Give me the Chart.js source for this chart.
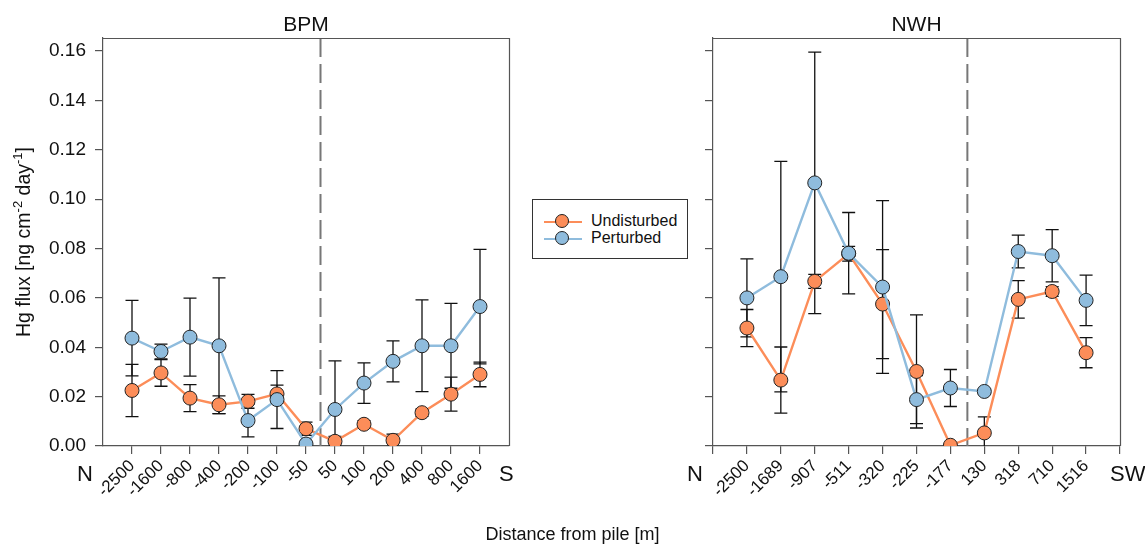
<!DOCTYPE html>
<html>
<head>
<meta charset="utf-8">
<script src="https://cdn.jsdelivr.net/npm/chart.js@4.4.1/dist/chart.umd.min.js"></script>
<style>
  body { margin: 0; background: #fff; font-family: "Liberation Sans", Arial, sans-serif; }
  #wrap { position: relative; width: 1145px; height: 549px; overflow: hidden; }
  #left { position: absolute; left: 0; top: 0; }
  #right { position: absolute; left: 560px; top: 0; }
  #legend { position: absolute; left: 532px; top: 199px; width: 154px; height: 58px;
            border: 1px solid #333; background: #fff; }
  .row { position: absolute; left: 0; height: 16px; width: 150px; }
  .row .ln { position: absolute; left: 11px; top: 7px; width: 38px; height: 2px; }
  .row .dot { position: absolute; left: 22px; top: 0; width: 14px; height: 14px; border-radius: 50%;
              border: 1px solid #222; box-sizing: border-box; }
  .row .tx { position: absolute; left: 58px; top: -2px; font-size: 16px; color: #111; }
  #xtitle { position: absolute; left: 0; width: 1145px; top: 524px; text-align: center; font-size: 18px; color: #111; }
</style>
</head>
<body>
<div id="wrap">
  <canvas id="left" width="560" height="549"></canvas>
  <canvas id="right" width="585" height="549"></canvas>
  <div id="legend">
    <div class="row" style="top:14px"><div class="ln" style="background:#FC8D59"></div><div class="dot" style="background:#FC8D59"></div><div class="tx">Undisturbed</div></div>
    <div class="row" style="top:31px"><div class="ln" style="background:#8FBCDD"></div><div class="dot" style="background:#8FBCDD"></div><div class="tx">Perturbed</div></div>
  </div>
  <div id="xtitle">Distance from pile [m]</div>
</div>
<script>
// BPM site
const bpmLabels = ['-2500', '-1600', '-800', '-400', '-200', '-100', '-50', '50', '100', '200', '400', '800', '1600'];
const bpmUndisturbed = [0.0225, 0.0296, 0.0194, 0.0167, 0.0181, 0.0211, 0.0070, 0.0019, 0.0088, 0.0023, 0.0135, 0.0210, 0.0290];
const bpmUndisturbedErr = [0.0106, 0.0054, 0.0055, 0.0036, 0.0028, 0.0036, 0.0027, 0.0020, 0.0015, 0.0025, 0.0015, 0.0069, 0.0050];
const bpmPerturbed = [0.0437, 0.0383, 0.0441, 0.0406, 0.0103, 0.0188, 0.0008, 0.0148, 0.0255, 0.0343, 0.0406, 0.0406, 0.0565];
const bpmPerturbedErr = [0.0153, 0.0030, 0.0158, 0.0275, 0.0066, 0.0117, 0.0010, 0.0197, 0.0082, 0.0083, 0.0186, 0.0172, 0.0232];

// NWH site
const nwhLabels = ['-2500', '-1689', '-907', '-511', '-320', '-225', '-177', '130', '318', '710', '1516'];
const nwhUndisturbed = [0.0478, 0.0267, 0.0667, 0.0779, 0.0575, 0.0302, 0.0003, 0.0053, 0.0594, 0.0626, 0.0378];
const nwhUndisturbedErr = [0.0075, 0.0134, 0.0028, 0.0030, 0.0221, 0.0229, 0.0005, 0.0065, 0.0076, 0.0020, 0.0061];
const nwhPerturbed = [0.0600, 0.0686, 0.1066, 0.0781, 0.0644, 0.0188, 0.0235, 0.0221, 0.0788, 0.0771, 0.0590];
const nwhPerturbedErr = [0.0158, 0.0467, 0.0530, 0.0165, 0.0350, 0.0097, 0.0075, 0.0010, 0.0066, 0.0106, 0.0102];

const yTicks = [0, 0.02, 0.04, 0.06, 0.08, 0.10, 0.12, 0.14, 0.16];
const pileBetween = 7.5; // pile sits between 7th and 8th sampling point

const orange = '#FC8D59';
const blue = '#8FBCDD';
const axisGrey = '#555';
const FONT = "'Liberation Sans', Arial, sans-serif";
Chart.defaults.font.family = FONT;
Chart.defaults.color = '#111';

const decor = {
  id: 'decor',
  beforeDatasetsDraw(chart, args, o) {
    const ctx = chart.ctx, a = chart.chartArea;
    const xs = chart.scales.x, ys = chart.scales.y;
    // dashed pile line
    ctx.save();
    ctx.strokeStyle = '#777';
    ctx.lineWidth = 2;
    ctx.setLineDash([19, 7]);
    const px = xs.getPixelForValue(pileBetween);
    ctx.beginPath(); ctx.moveTo(px, a.top); ctx.lineTo(px, a.bottom); ctx.stroke();
    ctx.restore();
    // error bars
    ctx.save();
    ctx.beginPath(); ctx.rect(a.left, a.top, a.right - a.left, a.bottom - a.top); ctx.clip();
    ctx.strokeStyle = '#111';
    ctx.lineWidth = 1.3;
    chart.data.datasets.forEach(ds => {
      ds.data.forEach((p, i) => {
        const e = ds.errors[i];
        const x = xs.getPixelForValue(p.x);
        const y1 = ys.getPixelForValue(p.y + e), y0 = ys.getPixelForValue(p.y - e);
        ctx.beginPath();
        ctx.moveTo(x, y1); ctx.lineTo(x, y0);
        ctx.moveTo(x - 6.5, y1); ctx.lineTo(x + 6.5, y1);
        ctx.moveTo(x - 6.5, y0); ctx.lineTo(x + 6.5, y0);
        ctx.stroke();
      });
    });
    ctx.restore();
  },
  afterDraw(chart, args, o) {
    const ctx = chart.ctx, a = chart.chartArea;
    ctx.save();
    // box top and right
    ctx.strokeStyle = axisGrey; ctx.lineWidth = 1.2;
    ctx.beginPath();
    ctx.moveTo(a.left, a.top + 0.5); ctx.lineTo(a.right + 0.5, a.top + 0.5); ctx.lineTo(a.right + 0.5, a.bottom);
    ctx.stroke();
    ctx.fillStyle = '#111';
    // panel title
    ctx.font = '21px ' + FONT;
    ctx.textAlign = 'center'; ctx.textBaseline = 'middle';
    ctx.fillText(o.title, (a.left + a.right) / 2, 25);
    // direction labels
    ctx.font = '22px ' + FONT;
    ctx.textAlign = 'right';
    ctx.fillText('N', a.left - 10, 475);
    ctx.textAlign = 'left';
    ctx.fillText(o.end, a.right - 10, 475);
    // y axis title with superscripts
    if (o.yTitle) {
      ctx.translate(25, (a.top + a.bottom) / 2);
      ctx.rotate(-Math.PI / 2);
      const big = '19.5px ' + FONT, small = '13px ' + FONT;
      const parts = [['Hg flux [ng cm', big, 0], ['-2', small, -7], [' day', big, 0], ['-1', small, -7], [']', big, 0]];
      let w = 0;
      parts.forEach(p => { ctx.font = p[1]; w += ctx.measureText(p[0]).width; });
      let x = -w / 2;
      ctx.textAlign = 'left'; ctx.textBaseline = 'middle';
      parts.forEach(p => { ctx.font = p[1]; ctx.fillText(p[0], x, p[2]); x += ctx.measureText(p[0]).width; });
    }
    ctx.restore();
  }
};

function makePanel(canvas, opts) {
  const pts = arr => arr.map((v, i) => ({ x: i + 1, y: v }));
  return new Chart(canvas, {
    type: 'line',
    data: {
      datasets: [
        { label: 'Perturbed', data: pts(opts.perturbed), errors: opts.perturbedErr, order: 0,
          borderColor: blue, backgroundColor: blue, borderWidth: 2.4,
          pointRadius: 7, pointBorderColor: '#222', pointBorderWidth: 1, pointBackgroundColor: blue },
        { label: 'Undisturbed', data: pts(opts.undisturbed), errors: opts.undisturbedErr, order: 1,
          borderColor: orange, backgroundColor: orange, borderWidth: 2.4,
          pointRadius: 7, pointBorderColor: '#222', pointBorderWidth: 1, pointBackgroundColor: orange }
      ]
    },
    options: {
      responsive: false,
      animation: false,
      layout: { padding: { left: 0, top: 38, right: opts.padRight, bottom: 0 } },
      plugins: {
        legend: { display: false },
        tooltip: { enabled: false },
        decor: { title: opts.title, end: opts.end, yTitle: opts.yTitle }
      },
      scales: {
        x: {
          type: 'linear',
          min: 0,
          max: opts.xMax,
          afterBuildTicks: s => { s.ticks = opts.tickPos.map(v => ({ value: v })); },
          afterFit: s => { s.height = 103; },
          ticks: {
            autoSkip: false, minRotation: 45, maxRotation: 45, padding: 2,
            font: { size: 17 }, color: '#111',
            callback: v => opts.labels[v - 1] || ''
          },
          grid: { drawOnChartArea: false, drawTicks: true, tickLength: 8, color: axisGrey, lineWidth: 1.2 },
          border: { color: axisGrey, width: 1.2 }
        },
        y: {
          min: 0,
          max: 0.1653,
          afterBuildTicks: s => { s.ticks = yTicks.map(v => ({ value: v })); },
          afterFit: s => { s.width = opts.yWidth; },
          ticks: {
            padding: 9, font: { size: 19 }, color: '#111',
            callback: v => opts.yTitle ? v.toFixed(2) : ''
          },
          grid: { drawOnChartArea: false, drawTicks: true, tickLength: 8, color: axisGrey, lineWidth: 1.2 },
          border: { color: axisGrey, width: 1.2 }
        }
      }
    },
    plugins: [decor]
  });
}

makePanel(document.getElementById('left'), {
  title: 'BPM', end: 'S', yTitle: true,
  labels: bpmLabels, undisturbed: bpmUndisturbed, undisturbedErr: bpmUndisturbedErr,
  perturbed: bpmPerturbed, perturbedErr: bpmPerturbedErr,
  xMax: bpmLabels.length + 1, tickPos: bpmLabels.map((_, i) => i + 1),
  yWidth: 103, padRight: 51
});

makePanel(document.getElementById('right'), {
  title: 'NWH', end: 'SW', yTitle: false,
  labels: nwhLabels, undisturbed: nwhUndisturbed, undisturbedErr: nwhUndisturbedErr,
  perturbed: nwhPerturbed, perturbedErr: nwhPerturbedErr,
  xMax: nwhLabels.length + 1, tickPos: Array.from({ length: nwhLabels.length + 2 }, (_, i) => i),
  yWidth: 153, padRight: 25
});
</script>
</body>
</html>
